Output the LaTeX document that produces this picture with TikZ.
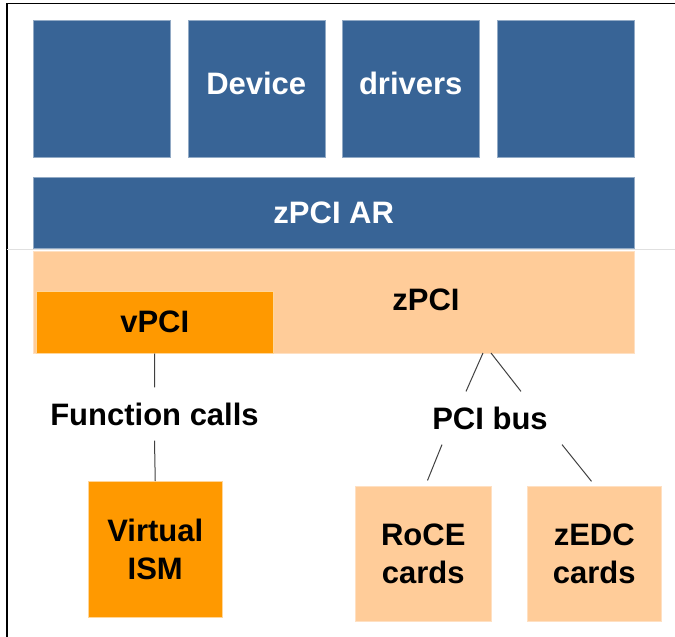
\documentclass[tikz,border=0pt]{standalone}
\usepackage{fontspec}
\setmainfont{Liberation Sans}
\usetikzlibrary{positioning}
\definecolor{zblue}{RGB}{56,100,150}
\definecolor{zpeach}{RGB}{255,204,153}
\definecolor{zorange}{RGB}{255,153,0}

\begin{document}
\begin{tikzpicture}[x=1pt, y=-1pt,
  every node/.style={font=\fontsize{31}{38}\selectfont\bfseries, inner sep=0pt, align=center},
  drv/.style={fill=zblue, draw=zblue!55!white, line width=0.5pt, text=white, minimum width=137pt, minimum height=137pt},
  bar/.style={fill=zblue, draw=zblue!55!white, line width=0.5pt, text=white, minimum width=601pt, minimum height=71pt},
  lo/.style={fill=zpeach, draw=zpeach!60!white, line width=0.5pt},
  hi/.style={fill=zorange, draw=zorange!40!white, line width=0.5pt},
  lbl/.style={inner sep=15pt},
  conn/.style={draw=black!75, line width=1pt}
]
\useasboundingbox (0,0) rectangle (675,637);
% frame and separator
\draw[line width=1.4pt] (7,637) -- (7,3.5) -- (675,3.5);
\draw[black!12, line width=0.8pt] (7,249.5) -- (675,249.5);

% driver row
\node[drv, anchor=north west] (d1) at (33,20) {};
\node[drv, right=17pt of d1, text depth=10pt] (d2) {Device};
\node[drv, right=17pt of d2, text depth=10pt] (d3) {drivers};
\node[drv, right=17pt of d3] (d4) {};
\node[bar, anchor=north west] (ar) at (33,177) {zPCI AR};

% zPCI layer
\node[lo, anchor=north west, minimum width=601pt, minimum height=102pt] (zpci) at (33,251) {};
\node (zpcilbl) at (426,300) {zPCI};
\node[hi, anchor=north west, minimum width=237pt, minimum height=62pt] (vpci) at (36,291) {vPCI};

% below
\node[lbl] (fc) at (154.5,414) {Function calls};
\node[lbl] (bus) at (490,418) {PCI bus};
\node[hi, anchor=north west, minimum width=134pt, minimum height=136pt] (vism) at (88,481) {Virtual\\ISM};
\node[lo, anchor=north west, minimum width=136pt, minimum height=135pt] (roce) at (355,486) {RoCE\\cards};
\node[lo, anchor=north west, minimum width=134pt, minimum height=135pt] (zedc) at (527,486) {zEDC\\cards};

\coordinate (tapL) at (483,353);
\coordinate (tapR) at (491,353);
\draw[conn] (vpci.south) -- (fc.north);
\draw[conn] (fc.south) -- (vism.north);
\draw[conn] (tapL) -- ([xshift=-24pt]bus.north);
\draw[conn] (tapR) -- ([xshift=31pt]bus.north);
\draw[conn, shorten >=6pt] ([xshift=-48pt]bus.south) -- ([xshift=2pt]roce.north);
\draw[conn, shorten >=6pt] ([xshift=72pt]bus.south) -- ([xshift=1pt]zedc.north);
\end{tikzpicture}
\end{document}
